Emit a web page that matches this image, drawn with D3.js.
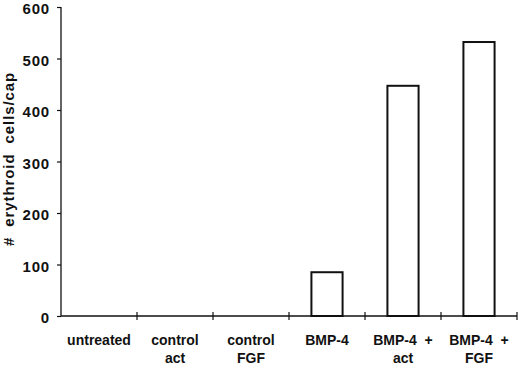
<!DOCTYPE html>
<html>
<head>
<meta charset="utf-8">
<script src="https://cdn.jsdelivr.net/npm/d3@7"></script>
<style>
  body { margin: 0; background: #fff; }
  text { font-family: "Liberation Sans", Arial, sans-serif; font-weight: bold; fill: #111; }
</style>
</head>
<body>
<svg id="chart" width="520" height="366"></svg>
<script>
// categories, two lines of label text each
const categories = ["untreated", "control act", "control FGF", "BMP-4", "BMP-4 + act", "BMP-4 + FGF"];
const label_line1 = ["untreated", "control", "control", "BMP-4", "BMP-4  +", "BMP-4  +"];
const label_line2 = ["", "act", "FGF", "", "act", "FGF"];
// erythroid cells per cap (empty = no bar)
const cell_counts = [null, null, null, 85, 447, 532];
const y_ticks = [0, 100, 200, 300, 400, 500, 600];

const svg = d3.select("#chart");

// plot area
const margins = { top: 7, right: 3, bottom: 50, left: 61 };
const width = 520, height = 366;
const boundedWidth = width - margins.left - margins.right;
const boundedHeight = 316 - margins.top;

const g = svg.append("g")
  .attr("transform", `translate(${margins.left},${margins.top})`);

const xScale = d3.scaleBand()
  .domain(categories)
  .range([0, boundedWidth])
  .paddingInner(0.59)
  .paddingOuter(0.295);

const bandScale = d3.scaleBand().domain(categories).range([0, boundedWidth]);

const yScale = d3.scaleLinear()
  .domain([0, 600])
  .range([boundedHeight, 0]);

// bars, white with a black outline
g.selectAll("rect.bar")
  .data(categories.map((c, i) => ({ cat: c, value: cell_counts[i] })).filter(d => d.value != null))
  .join("rect")
  .attr("class", "bar")
  .attr("x", d => xScale(d.cat))
  .attr("y", d => yScale(d.value))
  .attr("width", xScale.bandwidth())
  .attr("height", d => yScale(0) - yScale(d.value))
  .attr("fill", "#fff")
  .attr("stroke", "#111")
  .attr("stroke-width", 2);

// y axis
const yAxis = g.append("g")
  .call(d3.axisLeft(yScale).tickValues(y_ticks).tickSize(4).tickPadding(7));
yAxis.select(".domain").attr("stroke", "#111").attr("stroke-width", 1.3).attr("d", `M0,${boundedHeight}V0`);
yAxis.selectAll(".tick line").attr("stroke", "#111").attr("stroke-width", 1.2);
yAxis.selectAll(".tick text")
  .style("font-size", "15px")
  .style("letter-spacing", "0.8px")
  .attr("dy", "0.44em");

// x axis: line with ticks between categories, crossing the line
const xAxis = g.append("g")
  .attr("transform", `translate(0,${boundedHeight})`);
xAxis.append("line")
  .attr("x1", 0).attr("x2", boundedWidth)
  .attr("stroke", "#111").attr("stroke-width", 1.3);
xAxis.selectAll("line.sep")
  .data(categories.slice(1).concat(["end"]))
  .join("line")
  .attr("class", "sep")
  .attr("x1", (d, i) => bandScale.step() * (i + 1))
  .attr("x2", (d, i) => bandScale.step() * (i + 1))
  .attr("y1", -4).attr("y2", 4)
  .attr("stroke", "#111").attr("stroke-width", 1.2);

// category labels
const labels = xAxis.selectAll("g.lab")
  .data(categories)
  .join("g")
  .attr("class", "lab")
  .attr("transform", d => `translate(${bandScale(d) + bandScale.bandwidth() / 2},0)`);
labels.append("text")
  .attr("y", 29)
  .attr("text-anchor", "middle")
  .style("font-size", "14px")
  .style("white-space", "pre")
  .text((d, i) => label_line1[i]);
labels.append("text")
  .attr("y", 47)
  .attr("text-anchor", "middle")
  .style("font-size", "14px")
  .text((d, i) => label_line2[i]);

// y axis title
svg.append("text")
  .attr("transform", "translate(14,159) rotate(-90)")
  .attr("text-anchor", "middle")
  .style("font-size", "15px")
  .style("letter-spacing", "0.9px")
  .style("white-space", "pre")
  .text("#  erythroid  cells/cap");
</script>
</body>
</html>
